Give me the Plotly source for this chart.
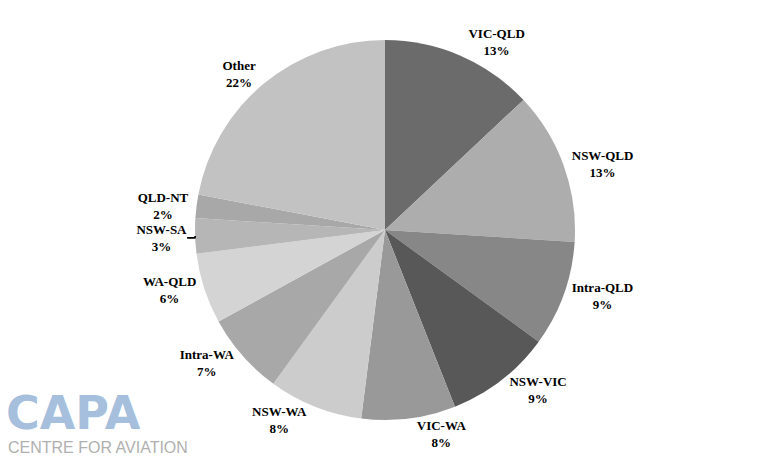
import plotly.graph_objects as go

labels = ["VIC-QLD", "NSW-QLD", "Intra-QLD", "NSW-VIC", "VIC-WA", "NSW-WA",
          "Intra-WA", "WA-QLD", "NSW-SA", "QLD-NT", "Other"]
values = [13, 13, 9, 9, 8, 8, 7, 6, 3, 2, 22]
colors = ["#6b6b6b", "#adadad", "#878787", "#585858", "#999999", "#cccccc",
          "#a8a8a8", "#d4d4d4", "#b6b6b6", "#a8a8a8", "#c2c2c2"]

serif = "Liberation Serif, DejaVu Serif, serif"

fig = go.Figure(go.Pie(
    labels=labels,
    values=values,
    sort=False,
    direction="clockwise",
    rotation=0,
    marker=dict(colors=colors, line=dict(width=0)),
    textposition="outside",
    texttemplate="%{label}<br>%{percent:.0%}",
    textfont=dict(family=serif, size=13, color="#000000", weight="bold"),
    outsidetextfont=dict(family=serif, size=13, color="#000000", weight="bold"),
    domain=dict(x=[(385 - 190) / 768, (385 + 190) / 768], y=[42 / 462, 422 / 462]),
    showlegend=False,
    hoverinfo="label+percent",
))

fig.add_annotation(text="<b>CAPA</b>", x=4 / 768, y=(462 - 384) / 462, xref="paper", yref="paper",
                   xanchor="left", yanchor="top", showarrow=False,
                   font=dict(family="DejaVu Sans", size=46, color="#a6bfdd"))
fig.add_annotation(text="CENTRE FOR AVIATION", x=6 / 768, y=(462 - 437) / 462, xref="paper", yref="paper",
                   xanchor="left", yanchor="top", showarrow=False,
                   font=dict(family="Liberation Sans", size=16, color="#b0b0b0"))

fig.update_layout(
    width=768, height=462,
    margin=dict(l=0, r=0, t=0, b=0),
    paper_bgcolor="white",
    plot_bgcolor="white",
)

fig.write_html("out.html", config={"displayModeBar": False},
               post_script="document.body.style.margin='0';")
